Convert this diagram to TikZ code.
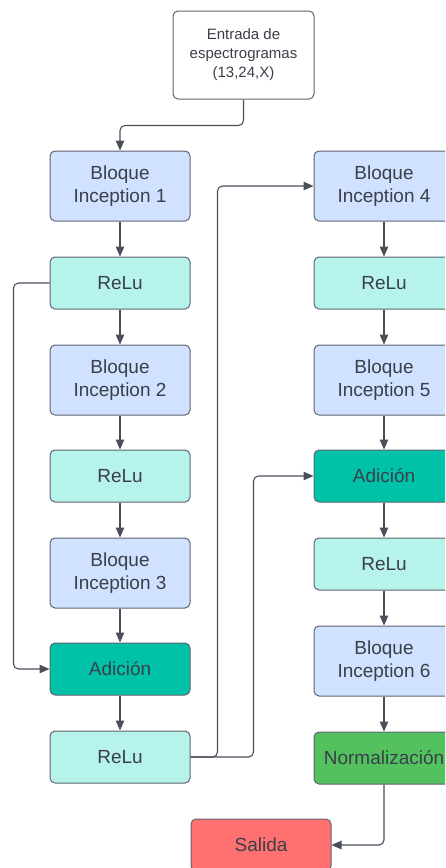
\documentclass[tikz,border=0pt]{standalone}
\usepackage{fontspec}
\setmainfont{Liberation Sans}
\usetikzlibrary{arrows.meta}
\definecolor{bqc}{HTML}{D0E2FF}
\definecolor{rlc}{HTML}{B6F3EA}
\definecolor{adc}{HTML}{00C2A8}
\definecolor{nmc}{HTML}{52C15E}
\definecolor{slc}{HTML}{FF7070}
\definecolor{edgec}{HTML}{5E6470}
\definecolor{txtc}{HTML}{3A3F4A}
\definecolor{linec}{HTML}{4A4F5A}
\begin{document}
\begin{tikzpicture}[x=1pt,y=-1pt,
  box/.style={draw=edgec, line width=1pt, rounded corners=5pt, minimum width=140pt,
    inner sep=0pt, align=center, text=txtc, font=\fontsize{19}{23}\selectfont},
  tall/.style={box, minimum height=70pt},
  short/.style={box, minimum height=52pt},
  bq/.style={tall, fill=bqc},
  rl/.style={short, fill=rlc},
  ad/.style={short, fill=adc},
  conn/.style={draw=linec, line width=1.1pt, rounded corners=5pt,
    -{Triangle[length=10pt,width=8.5pt]}}]
\useasboundingbox (0,0) rectangle (445,868);
\clip (0,0) rectangle (445,868);
\node[box, fill=white, minimum width=141pt, minimum height=88pt,
  font=\fontsize{15}{19}\selectfont] (ent) at (243.5,55) {Entrada de\\espectrogramas\\(13,24,X)};
% left column
\node[bq] (b1) at (120,186) {Bloque\\Inception 1};
\node[rl] (r1) at (120,283) {ReLu};
\node[bq] (b2) at (120,380) {Bloque\\Inception 2};
\node[rl] (r2) at (120,476) {ReLu};
\node[bq] (b3) at (120,573) {Bloque\\Inception 3};
\node[ad] (a1) at (120,669) {Adición};
\node[rl] (r3) at (120,757) {ReLu};
% right column
\node[bq] (b4) at (384,186) {Bloque\\Inception 4};
\node[rl] (r4) at (384,283) {ReLu};
\node[bq] (b5) at (384,380) {Bloque\\Inception 5};
\node[ad] (a2) at (384,476) {Adición};
\node[rl] (r5) at (384,564) {ReLu};
\node[bq] (b6) at (384,661) {Bloque\\Inception 6};
\node[short, fill=nmc] (nm) at (384,758) {Normalización};
\node[short, fill=slc] (sal) at (261,845) {Salida};
% connectors
\draw[conn] (ent.south) -- ++(0,26) -| (b1.north);
\draw[conn] (b1) -- (r1);
\draw[conn] (r1) -- (b2);
\draw[conn] (b2) -- (r2);
\draw[conn] (r2) -- (b3);
\draw[conn] (b3) -- (a1);
\draw[conn] (a1) -- (r3);
\draw[conn] (r1.west) -- ++(-36,0) |- (a1.west);
\draw[conn] (r3.east) -- ++(27,0) |- (b4.west);
\draw[conn] (r3.east) -- ++(63,0) |- (a2.west);
\draw[conn] (b4) -- (r4);
\draw[conn] (r4) -- (b5);
\draw[conn] (b5) -- (a2);
\draw[conn] (a2) -- (r5);
\draw[conn] (r5) -- (b6);
\draw[conn] (b6) -- (nm);
\draw[conn] (nm.south) |- (sal.east);
\end{tikzpicture}
\end{document}
